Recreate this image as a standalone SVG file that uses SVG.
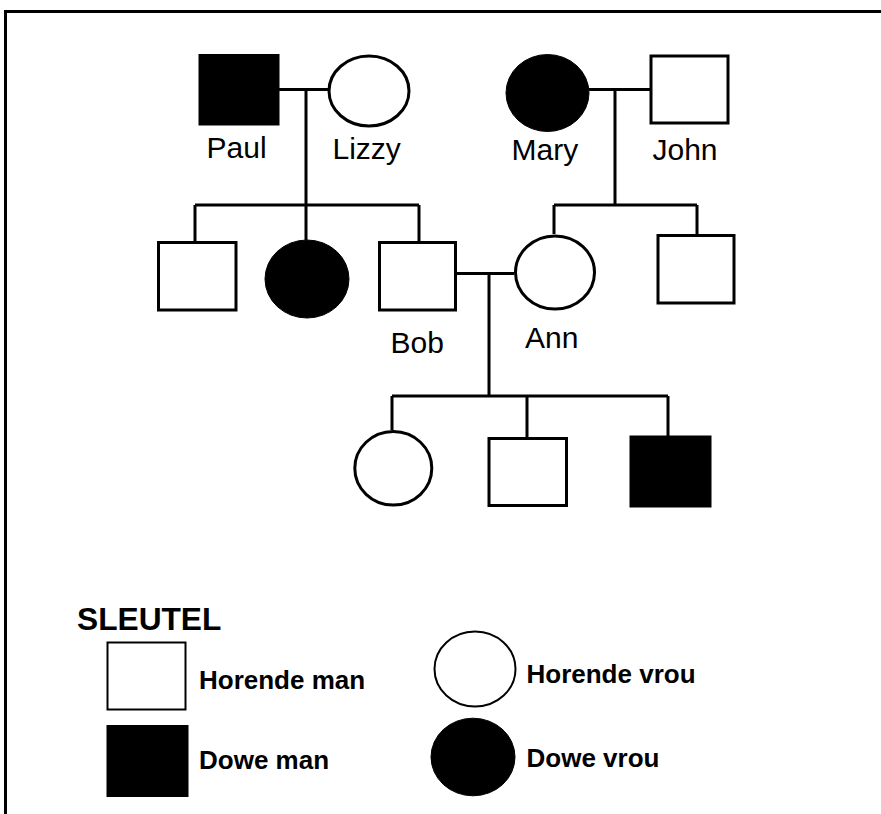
<svg xmlns="http://www.w3.org/2000/svg" width="881" height="814" viewBox="0 0 881 814">
<style>
.frame{fill:none;stroke:#000;stroke-width:3}
.line{fill:none;stroke:#000;stroke-width:3}
.open{fill:#fff;stroke:#000;stroke-width:3}
.fill{fill:#000;stroke:#000;stroke-width:1}
.lopen{fill:#fff;stroke:#000;stroke-width:2}
.name{font-family:"Liberation Sans",Arial,sans-serif;font-size:30px;fill:#000}
.key{font-family:"Liberation Sans",Arial,sans-serif;font-size:26px;font-weight:bold;fill:#000}
.title{font-family:"Liberation Sans",Arial,sans-serif;font-size:31.7px;font-weight:bold;fill:#000}
</style>
<rect width="881" height="814" fill="#fff"/>
<path class="frame" d="M5.5 814 V11.5 H881"/>
<g id="connectors">
<path class="line" d="M279 89.5 H328 M306 89.5 V205 M195 205 H419 M195 205 V241 M306 205 V240 M419 205 V241"/>
<path class="line" d="M589 89.5 H650 M615 89.5 V205 M554 205 H697 M554 205 V234 M697 205 V234"/>
<path class="line" d="M457 273.5 H514 M489 273.5 V396 M392 396 H668 M392 396 V430 M527 396 V437 M668 396 V436"/>
</g>
<g id="paul"><rect class="fill" x="199" y="54.5" width="80" height="70.5"/><text class="name" x="206.5" y="158">Paul</text></g>
<g id="lizzy"><ellipse class="open" cx="369" cy="91" rx="40" ry="35"/><text class="name" x="332.5" y="159">Lizzy</text></g>
<g id="mary"><ellipse class="fill" cx="547.5" cy="93" rx="41.5" ry="38.5"/><text class="name" x="511.5" y="160">Mary</text></g>
<g id="john"><rect class="open" x="651" y="56" width="77" height="67"/><text class="name" x="652.5" y="160">John</text></g>
<g id="son1"><rect class="open" x="158.5" y="242.5" width="77.5" height="67.5"/></g>
<g id="daughter1"><ellipse class="fill" cx="307" cy="279" rx="42" ry="39"/></g>
<g id="bob"><rect class="open" x="379.5" y="242.5" width="76" height="67.5"/><text class="name" x="390.5" y="352.5">Bob</text></g>
<g id="ann"><ellipse class="open" cx="555" cy="272.5" rx="39.5" ry="36.5"/><text class="name" x="525" y="348">Ann</text></g>
<g id="son2"><rect class="open" x="658" y="235.5" width="76" height="67.5"/></g>
<g id="gc1"><ellipse class="open" cx="393.3" cy="468.3" rx="38.5" ry="36.8"/></g>
<g id="gc2"><rect class="open" x="489" y="438.5" width="77.5" height="67"/></g>
<g id="gc3"><rect class="fill" x="630" y="436" width="81" height="71"/></g>
<g id="legend">
<text class="title" x="77" y="630">SLEUTEL</text>
<rect class="lopen" x="107.5" y="642.5" width="78" height="67"/>
<text class="key" x="199" y="688.5">Horende man</text>
<rect class="fill" x="107" y="725.5" width="81" height="71"/>
<text class="key" x="199" y="768.5">Dowe man</text>
<ellipse class="lopen" cx="475" cy="669" rx="40.5" ry="37.5"/>
<text class="key" x="526.5" y="683">Horende vrou</text>
<ellipse class="fill" cx="473" cy="757" rx="42" ry="38.8"/>
<text class="key" x="526.5" y="767">Dowe vrou</text>
</g>
</svg>
